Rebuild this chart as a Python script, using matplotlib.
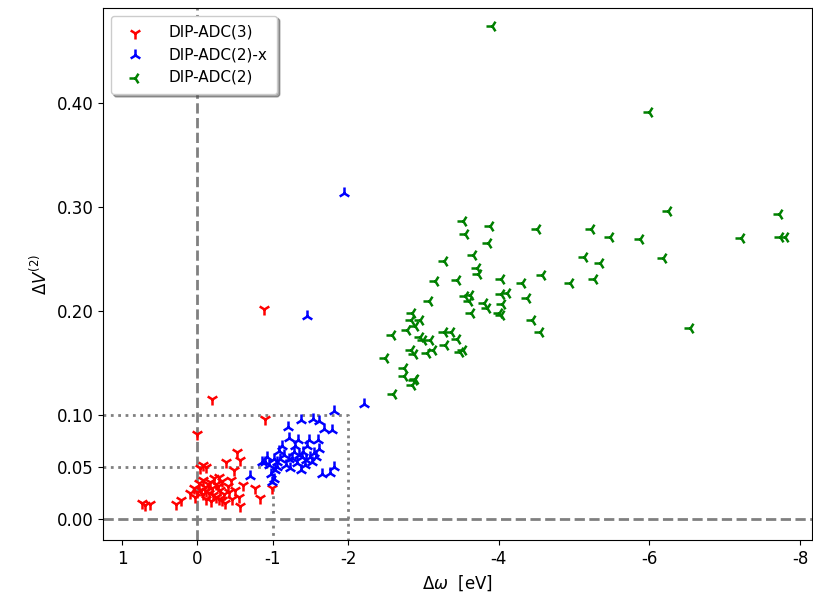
import numpy as np
import matplotlib.pyplot as plt

# DIP-ADC(3): (delta omega, delta V2)
adc3_x = [0.74, 0.69, 0.63, 0.29, 0.22, 0.10, 0.03, -0.195, 0.00, -0.88, -0.90,
          -0.53, -0.57, -0.38, -0.08, -0.04, -0.12, -0.48, -0.28, -0.57, -0.77,
          -0.83, -0.99, -0.05, -0.10, -0.15, -0.20, -0.25, -0.30, -0.35, -0.12,
          -0.18, -0.24, -0.40, -0.44, -0.32, -0.08, -0.22, -0.50, -0.55, -0.02,
          -0.14, -0.28, -0.36, -0.46, 0.05, -0.60, -0.07, -0.17, -0.27, -0.33,
          -0.42, 0.00, -0.11, -0.21]
adc3_y = [0.016, 0.014, 0.015, 0.015, 0.019, 0.025, 0.022, 0.116, 0.082, 0.202, 0.096,
          0.065, 0.057, 0.055, 0.052, 0.049, 0.050, 0.047, 0.041, 0.013, 0.030,
          0.021, 0.030, 0.028, 0.031, 0.025, 0.030, 0.034, 0.028, 0.024, 0.020,
          0.018, 0.022, 0.032, 0.038, 0.037, 0.038, 0.040, 0.028, 0.022, 0.035,
          0.034, 0.020, 0.016, 0.020, 0.030, 0.033, 0.024, 0.036, 0.032, 0.019,
          0.026, 0.026, 0.027, 0.023]

# DIP-ADC(2)-x
adc2x_x = [-2.21, -1.81, -1.375, -1.54, -1.61, -1.675, -1.79, -1.20, -1.21, -1.34,
           -1.48, -1.60, -1.61, -1.08, -0.92, -0.86, -1.01, -1.15, -1.28, -1.39,
           -1.50, -1.32, -1.43, -1.23, -1.37, -0.70, -0.97, -1.01, -0.99, -1.03,
           -1.65, -1.76, -1.81, -1.06, -1.10, -0.90, -0.95, -1.95, -1.46, -1.45,
           -1.55, -1.30, -1.18, -1.40, -1.52, -1.26, -1.12, -1.35, -1.44, -1.22,
           -1.58, -1.05]
adc2x_y = [0.111, 0.104, 0.095, 0.096, 0.094, 0.087, 0.086, 0.089, 0.078, 0.076,
           0.076, 0.076, 0.068, 0.066, 0.060, 0.055, 0.058, 0.062, 0.065, 0.060,
           0.060, 0.054, 0.052, 0.049, 0.047, 0.042, 0.044, 0.039, 0.036, 0.047,
           0.044, 0.045, 0.050, 0.055, 0.058, 0.055, 0.052, 0.313, 0.195, 0.070,
           0.064, 0.070, 0.052, 0.065, 0.055, 0.059, 0.070, 0.062, 0.057, 0.058,
           0.060, 0.050]

# DIP-ADC(2)
adc2_x = [-3.91, -5.99, -6.24, -7.72, -7.22, -7.73, -7.80, -3.53, -3.88, -4.51,
          -5.22, -5.48, -5.88, -3.55, -3.855, -3.66, -3.27, -3.71, -3.72, -5.13,
          -5.34, -6.18, -3.16, -3.45, -4.03, -4.31, -4.58, -4.95, -5.27, -6.54,
          -4.03, -4.11, -4.37, -4.04, -3.80, -3.85, -4.00, -4.03, -4.44, -4.55,
          -3.07, -3.55, -3.62, -3.60, -3.63, -2.85, -2.83, -2.96, -2.78, -2.89,
          -2.58, -3.27, -3.36, -2.96, -3.00, -3.09, -3.45, -3.29, -2.83, -2.87,
          -3.05, -3.13, -3.49, -3.53, -2.49, -2.74, -2.74, -2.87, -2.89, -2.85,
          -2.60]
adc2_y = [0.474, 0.391, 0.296, 0.293, 0.2705, 0.2715, 0.2715, 0.2865, 0.282, 0.2785,
          0.2785, 0.271, 0.269, 0.274, 0.265, 0.254, 0.248, 0.241, 0.236, 0.252,
          0.2465, 0.251, 0.229, 0.230, 0.2305, 0.2266, 0.2346, 0.2273, 0.2305, 0.184,
          0.216, 0.2176, 0.213, 0.2064, 0.208, 0.203, 0.198, 0.196, 0.191, 0.180,
          0.210, 0.214, 0.215, 0.210, 0.198, 0.198, 0.191, 0.191, 0.182, 0.186,
          0.177, 0.180, 0.180, 0.175, 0.172, 0.172, 0.173, 0.167, 0.163, 0.159,
          0.160, 0.163, 0.161, 0.163, 0.1545, 0.145, 0.1375, 0.134, 0.135, 0.129,
          0.120]

x_ticks = [1, 0, -1, -2, -4, -6, -8]
y_ticks = [0.0, 0.05, 0.1, 0.2, 0.3, 0.4]

fig = plt.figure(figsize=(8.13, 6.05), dpi=100)
ax = fig.add_axes([0.127, 0.107, 0.872, 0.880])

ax.axvline(0, color="gray", ls="--", lw=2, zorder=1)
ax.axhline(0, color="gray", ls="--", lw=2, zorder=1)
ax.plot([1.25, -2, -2], [0.1, 0.1, -0.02], color="gray", ls=":", lw=2, zorder=1)
ax.plot([1.25, -1, -1], [0.05, 0.05, -0.02], color="gray", ls=":", lw=2, zorder=1)

ax.scatter(adc3_x, adc3_y, marker="1", s=75, linewidths=1.8, color="red",
           label="DIP-ADC(3)", zorder=3)
ax.scatter(adc2x_x, adc2x_y, marker="2", s=75, linewidths=1.8, color="blue",
           label="DIP-ADC(2)-x", zorder=3)
ax.scatter(adc2_x, adc2_y, marker="3", s=75, linewidths=1.8, color="green",
           label="DIP-ADC(2)", zorder=3)

ax.set_xlim(1.25, -8.16)
ax.set_ylim(-0.02, 0.491)
ax.set_xticks(x_ticks)
ax.set_xticklabels([str(t) for t in x_ticks], fontsize=12)
ax.set_yticks(y_ticks)
ax.set_yticklabels(["%.2f" % t for t in y_ticks], fontsize=12)
ax.set_xlabel(r"$\Delta\omega$  [eV]", fontsize=12)
ax.set_ylabel(r"$\Delta V^{(2)}$", fontsize=12)

ax.legend(loc="upper left", shadow=True, fontsize=11, framealpha=1,
          handletextpad=1.2, borderpad=0.6)

fig.savefig("out.png", dpi=100)
